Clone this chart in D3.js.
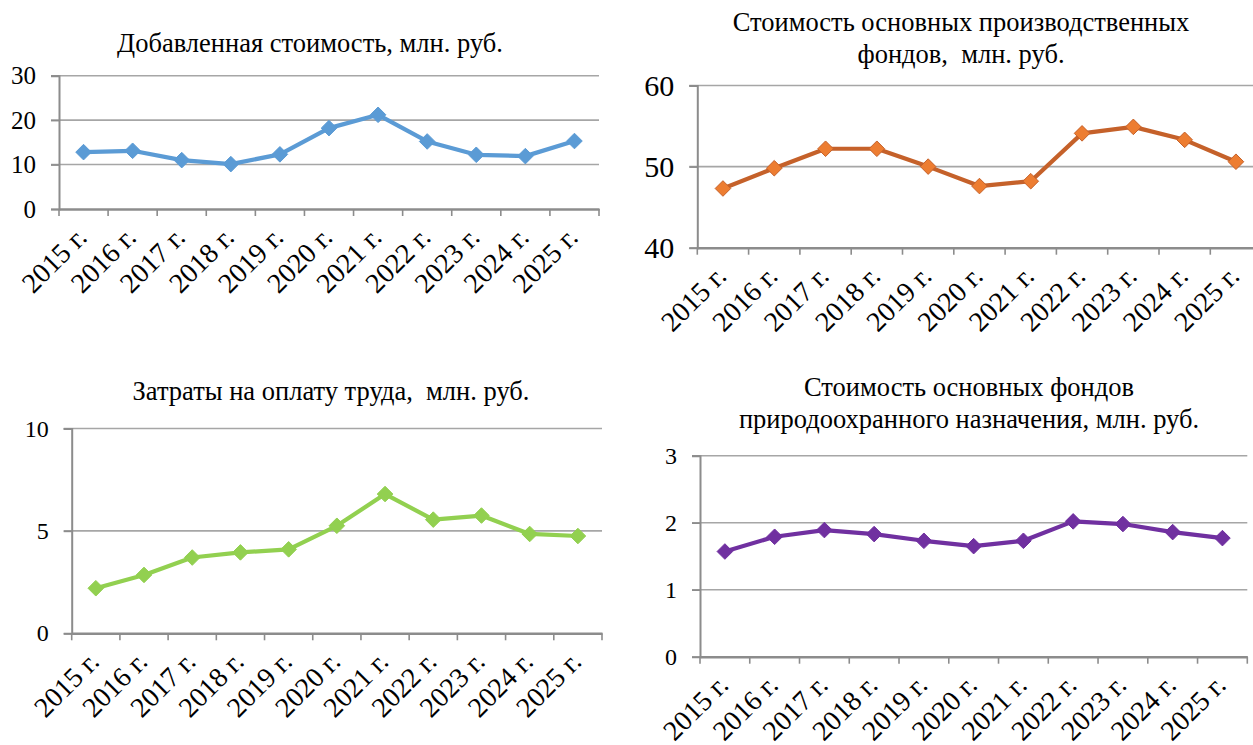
<!DOCTYPE html>
<html>
<head>
<meta charset="utf-8">
<script src="https://cdn.jsdelivr.net/npm/d3@7"></script>
<style>
  html, body { margin: 0; padding: 0; background: #ffffff; }
  svg { display: block; }
  text { font-family: "Liberation Serif", "Times New Roman", serif; fill: #000; white-space: pre; }
</style>
</head>
<body>
<svg id="chart" width="1253" height="745"></svg>
<script>
// ---- data ----
const years = ["2015 г.", "2016 г.", "2017 г.", "2018 г.", "2019 г.", "2020 г.", "2021 г.", "2022 г.", "2023 г.", "2024 г.", "2025 г."];

const addedValue   = [12.8, 13.1, 11.0, 10.1, 12.3, 18.2, 21.2, 15.2, 12.2, 11.9, 15.3];
const fixedAssets  = [47.3, 49.8, 52.2, 52.2, 50.0, 47.6, 48.2, 54.1, 54.9, 53.3, 50.6];
const laborCosts   = [2.2, 2.85, 3.7, 3.95, 4.1, 5.25, 6.8, 5.55, 5.75, 4.85, 4.75];
const envAssets    = [1.57, 1.79, 1.89, 1.83, 1.73, 1.65, 1.73, 2.02, 1.98, 1.86, 1.77];

const ticksAdded = [0, 10, 20, 30];
const ticksFixed = [40, 50, 60];
const ticksLabor = [0, 5, 10];
const ticksEnv   = [0, 1, 2, 3];

const titleAdded = ["Добавленная стоимость, млн. руб."];
const titleFixed = ["Стоимость основных производственных", "фондов,  млн. руб."];
const titleLabor = ["Затраты на оплату труда,  млн. руб."];
const titleEnv   = ["Стоимость основных фондов", "природоохранного назначения, млн. руб."];

// ---- layout / style ----
const FONT = '"Liberation Serif", "Times New Roman", serif';
const panels = [
  { values: addedValue, ticks: ticksAdded, title: titleAdded,
    x0: 59, x1: 599, yTop: 75.7, yBot: 209,
    titleX: 310, titleY: [52], yFont: 25,
    line: "#5B9BD5", fill: "#5B9BD5", mstroke: "#5B9BD5" },
  { values: fixedAssets, ticks: ticksFixed, title: titleFixed,
    x0: 697.3, x1: 1261.6, yTop: 85.5, yBot: 247.7,
    titleX: 961, titleY: [31, 63], yFont: 30,
    line: "#C5612A", fill: "#ED7D31", mstroke: "#C5612A" },
  { values: laborCosts, ticks: ticksLabor, title: titleLabor,
    x0: 71.7, x1: 602, yTop: 428.5, yBot: 633.3,
    titleX: 331, titleY: [400], yFont: 24,
    line: "#92D050", fill: "#92D050", mstroke: "#92D050" },
  { values: envAssets, ticks: ticksEnv, title: titleEnv,
    x0: 700, x1: 1247.3, yTop: 455.7, yBot: 656.7,
    titleX: 969, titleY: [396, 428], yFont: 24,
    line: "#7030A0", fill: "#7030A0", mstroke: "#7030A0" }
];

const svg = d3.select("#chart");
const gridColor = "#A6A6A6";
const axisColor = "#8C8C8C";

panels.forEach(p => {
  const g = svg.append("g");
  const x = d3.scaleBand().domain(years).range([p.x0, p.x1]).padding(0);
  const y = d3.scaleLinear().domain(d3.extent(p.ticks)).range([p.yBot, p.yTop]);

  // gridlines (excluding baseline)
  g.selectAll("line.grid").data(p.ticks.filter(t => t !== p.ticks[0])).enter()
    .append("line")
    .attr("x1", p.x0 - 8).attr("x2", p.x1)
    .attr("y1", d => y(d)).attr("y2", d => y(d))
    .attr("stroke", gridColor).attr("stroke-width", 1.6);

  // y axis via d3
  const yAxis = d3.axisLeft(y).tickValues(p.ticks).tickSize(8).tickPadding(15).tickFormat(d3.format("d"));
  const ya = g.append("g").attr("transform", `translate(${p.x0},0)`).call(yAxis)
    .attr("font-family", FONT).attr("font-size", p.yFont);
  ya.select(".domain").attr("stroke", axisColor).attr("stroke-width", 2);
  ya.selectAll(".tick line").attr("stroke", axisColor).attr("stroke-width", 1.6);
  ya.selectAll(".tick text")
    .style("font-family", FONT)
    .style("font-size", p.yFont + "px").attr("fill", "#000");

  // x axis via d3 (ticks at band boundaries)
  const xAxis = d3.axisBottom(x).tickSize(0).tickFormat("");
  const xa = g.append("g").attr("transform", `translate(0,${p.yBot})`).call(xAxis);
  xa.select(".domain").attr("stroke", axisColor).attr("stroke-width", 2.4);
  const bounds = years.map(d => x(d)).concat([p.x1]);
  g.selectAll("line.xt").data(bounds).enter().append("line")
    .attr("x1", d => d).attr("x2", d => d)
    .attr("y1", p.yBot).attr("y2", p.yBot + 7)
    .attr("stroke", axisColor).attr("stroke-width", 1.6);

  // rotated category labels
  g.selectAll("text.xl").data(years).enter().append("text")
    .attr("transform", d => `translate(${x(d) + x.bandwidth() / 2 + 5},${p.yBot + 30}) rotate(-45)`)
    .attr("text-anchor", "end")
    .style("font-family", FONT)
    .style("font-size", "28px")
    .text(d => d);

  // line
  const pts = p.values.map((v, i) => [x(years[i]) + x.bandwidth() / 2, y(v)]);
  g.append("path").datum(pts)
    .attr("d", d3.line())
    .attr("fill", "none").attr("stroke", p.line).attr("stroke-width", 4.2)
    .attr("stroke-linejoin", "round");

  // diamond markers
  const sym = d3.symbol().type(d3.symbolDiamond2).size(155);
  g.selectAll("path.m").data(pts).enter().append("path")
    .attr("transform", d => `translate(${d[0]},${d[1]})`)
    .attr("d", sym)
    .attr("fill", p.fill).attr("stroke", p.mstroke).attr("stroke-width", 1);

  // title
  const t = g.append("text").attr("text-anchor", "middle")
    .style("font-family", FONT).style("font-size", "26.5px");
  p.title.forEach((line, i) => {
    t.append("tspan").attr("x", p.titleX).attr("y", p.titleY[i]).text(line);
  });
});
</script>
</body>
</html>
